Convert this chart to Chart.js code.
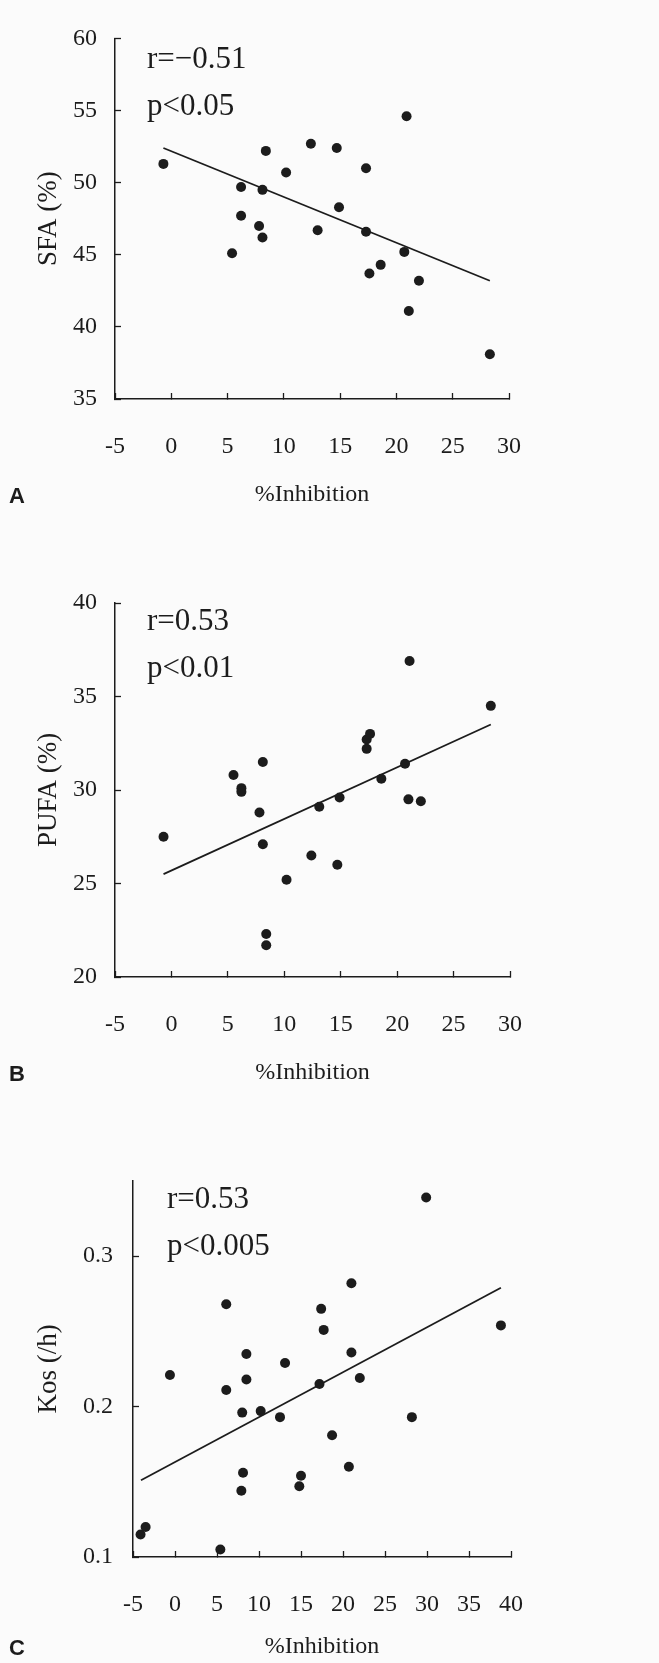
<!DOCTYPE html>
<html>
<head>
<meta charset="utf-8">
<script src="https://cdn.jsdelivr.net/npm/chart.js@4.4.1/dist/chart.umd.min.js"></script>
<style>
  html, body { margin: 0; padding: 0; background: #fbfbfb; overflow: hidden; }
  body { width: 659px; height: 1663px; position: relative; }
  canvas { position: absolute; left: 0; display: block; }
</style>
</head>
<body>
<canvas id="panelA" width="659" height="520" style="top:0px"></canvas>
<canvas id="panelB" width="659" height="580" style="top:520px"></canvas>
<canvas id="panelC" width="659" height="563" style="top:1100px"></canvas>
<script>
// A: SFA vs %Inhibition
const sfaInhibition = [-0.7, 6.2, 6.2, 5.4, 8.1, 8.4, 7.8, 8.1, 10.2, 12.4, 13.0, 14.7, 14.9, 17.3, 17.3, 17.6, 18.6, 20.9, 20.7, 22.0, 21.1, 28.3];
const sfaValues     = [51.3, 49.7, 47.7, 45.1, 49.5, 52.2, 47.0, 46.2, 50.7, 52.7, 46.7, 52.4, 48.3, 51.0, 46.6, 43.7, 44.3, 54.6, 45.2, 43.2, 41.1, 38.1];
const sfaFitX = [-0.7, 28.3];
const sfaFitY = [52.4, 43.2];

// B: PUFA vs %Inhibition
const pufaInhibition = [-0.7, 5.5, 6.2, 6.2, 8.1, 7.8, 8.1, 8.4, 8.4, 10.2, 12.4, 13.1, 14.7, 14.9, 17.3, 17.3, 17.6, 18.6, 20.7, 21.1, 21.0, 22.1, 28.3];
const pufaValues     = [27.5, 30.8, 30.1, 29.9, 31.5, 28.8, 27.1, 22.3, 21.7, 25.2, 26.5, 29.1, 26.0, 29.6, 32.2, 32.7, 33.0, 30.6, 31.4, 36.9, 29.5, 29.4, 34.5];
const pufaFitX = [-0.7, 28.3];
const pufaFitY = [25.5, 33.5];

// C: Kos vs %Inhibition
const kosInhibition = [-4.1, -3.5, -0.6, 5.4, 6.1, 6.1, 8.0, 8.1, 7.9, 8.5, 8.5, 10.2, 12.5, 13.1, 14.8, 15.0, 17.2, 17.4, 17.7, 18.7, 20.7, 21.0, 21.0, 22.0, 28.2, 29.9, 38.8];
const kosValues     = [0.115, 0.120, 0.221, 0.105, 0.268, 0.211, 0.196, 0.156, 0.144, 0.235, 0.218, 0.197, 0.193, 0.229, 0.147, 0.154, 0.215, 0.265, 0.251, 0.181, 0.160, 0.282, 0.236, 0.219, 0.193, 0.339, 0.254];
const kosFitX = [-4.05, 38.8];
const kosFitY = [0.151, 0.279];

const INK = '#1c1c1c';
const SERIF = '"Liberation Serif", "Times New Roman", serif';

function pts(xs, ys) {
  return xs.map((x, i) => ({ x: x, y: ys[i] }));
}

// r / p text inside the plot and the panel letter
const notes = {
  id: 'notes',
  afterDraw(chart, args, opts) {
    const ctx = chart.ctx;
    const area = chart.chartArea;
    ctx.save();
    ctx.fillStyle = INK;
    ctx.textBaseline = 'alphabetic';
    ctx.textAlign = 'left';
    ctx.font = '31px ' + SERIF;
    opts.lines.forEach((t, i) => {
      ctx.fillText(t, area.left + opts.dx, area.top + opts.dy + i * 47);
    });
    ctx.font = 'bold 22px "Liberation Sans", Arial, sans-serif';
    ctx.fillText(opts.tag, 9, area.bottom + opts.tagDy);
    ctx.restore();
  }
};

function panel(id, p) {
  new Chart(document.getElementById(id), {
    type: 'scatter',
    data: {
      datasets: [
        {
          data: pts(p.x, p.y),
          backgroundColor: INK,
          borderWidth: 0,
          pointRadius: 5,
          pointHoverRadius: 5
        },
        {
          data: pts(p.fitX, p.fitY),
          showLine: true,
          borderColor: INK,
          borderWidth: 1.8,
          pointRadius: 0
        }
      ]
    },
    options: {
      responsive: false,
      animation: false,
      events: [],
      layout: { padding: p.pad },
      plugins: {
        legend: { display: false },
        tooltip: { enabled: false },
        notes: p.notes
      },
      scales: {
        x: {
          type: 'linear',
          min: p.xMin,
          max: p.xMax,
          ticks: { stepSize: 5, autoSkip: false, maxRotation: 0, padding: 39, color: INK, font: { family: SERIF, size: 24 } },
          grid: { drawOnChartArea: false, drawTicks: true, tickLength: -6, tickWidth: 1.3, tickColor: INK },
          border: { color: INK, width: 1.5 },
          title: { display: true, text: '%Inhibition', color: INK, font: { family: SERIF, size: 24 }, padding: { top: 0, bottom: 1 } },
          afterFit: (s) => { s.height = p.xH; }
        },
        y: {
          type: 'linear',
          min: p.yMin,
          max: p.yMax,
          ticks: { stepSize: p.yStep, includeBounds: false, padding: p.yPad, color: INK, font: { family: SERIF, size: 24 } },
          grid: { drawOnChartArea: false, drawTicks: true, tickLength: -6, tickWidth: 1.3, tickColor: INK },
          border: { color: INK, width: 1.5 },
          title: { display: true, text: p.yTitle, color: INK, font: { family: SERIF, size: 27 }, padding: { top: 33, bottom: 0 } },
          afterFit: (s) => { s.width = p.yW; }
        }
      }
    },
    plugins: [notes]
  });
}

panel('panelA', {
  x: sfaInhibition, y: sfaValues, fitX: sfaFitX, fitY: sfaFitY,
  xMin: -5, xMax: 30, yMin: 35, yMax: 60, yStep: 5, yPad: 24,
  yTitle: 'SFA (%)', yW: 115, xH: 111,
  pad: { top: 25, left: 0, right: 150, bottom: 10 },
  notes: { lines: ['r=\u22120.51', 'p<0.05'], dx: 32, dy: 30, tag: 'A', tagDy: 104 }
});

panel('panelB', {
  x: pufaInhibition, y: pufaValues, fitX: pufaFitX, fitY: pufaFitY,
  xMin: -5, xMax: 30, yMin: 20, yMax: 40, yStep: 5, yPad: 24,
  yTitle: 'PUFA (%)', yW: 115, xH: 111,
  pad: { top: 83, left: 0, right: 149, bottom: 12 },
  notes: { lines: ['r=0.53', 'p<0.01'], dx: 32, dy: 27, tag: 'B', tagDy: 104 }
});

panel('panelC', {
  x: kosInhibition, y: kosValues, fitX: kosFitX, fitY: kosFitY,
  xMin: -5, xMax: 40, yMin: 0.1, yMax: 0.35, yStep: 0.1, yPad: 26,
  yTitle: 'Kos (/h)', yW: 133, xH: 105,
  pad: { top: 81, left: 0, right: 148, bottom: 1 },
  notes: { lines: ['r=0.53', 'p<0.005'], dx: 34, dy: 27, tag: 'C', tagDy: 98 }
});
</script>
</body>
</html>
